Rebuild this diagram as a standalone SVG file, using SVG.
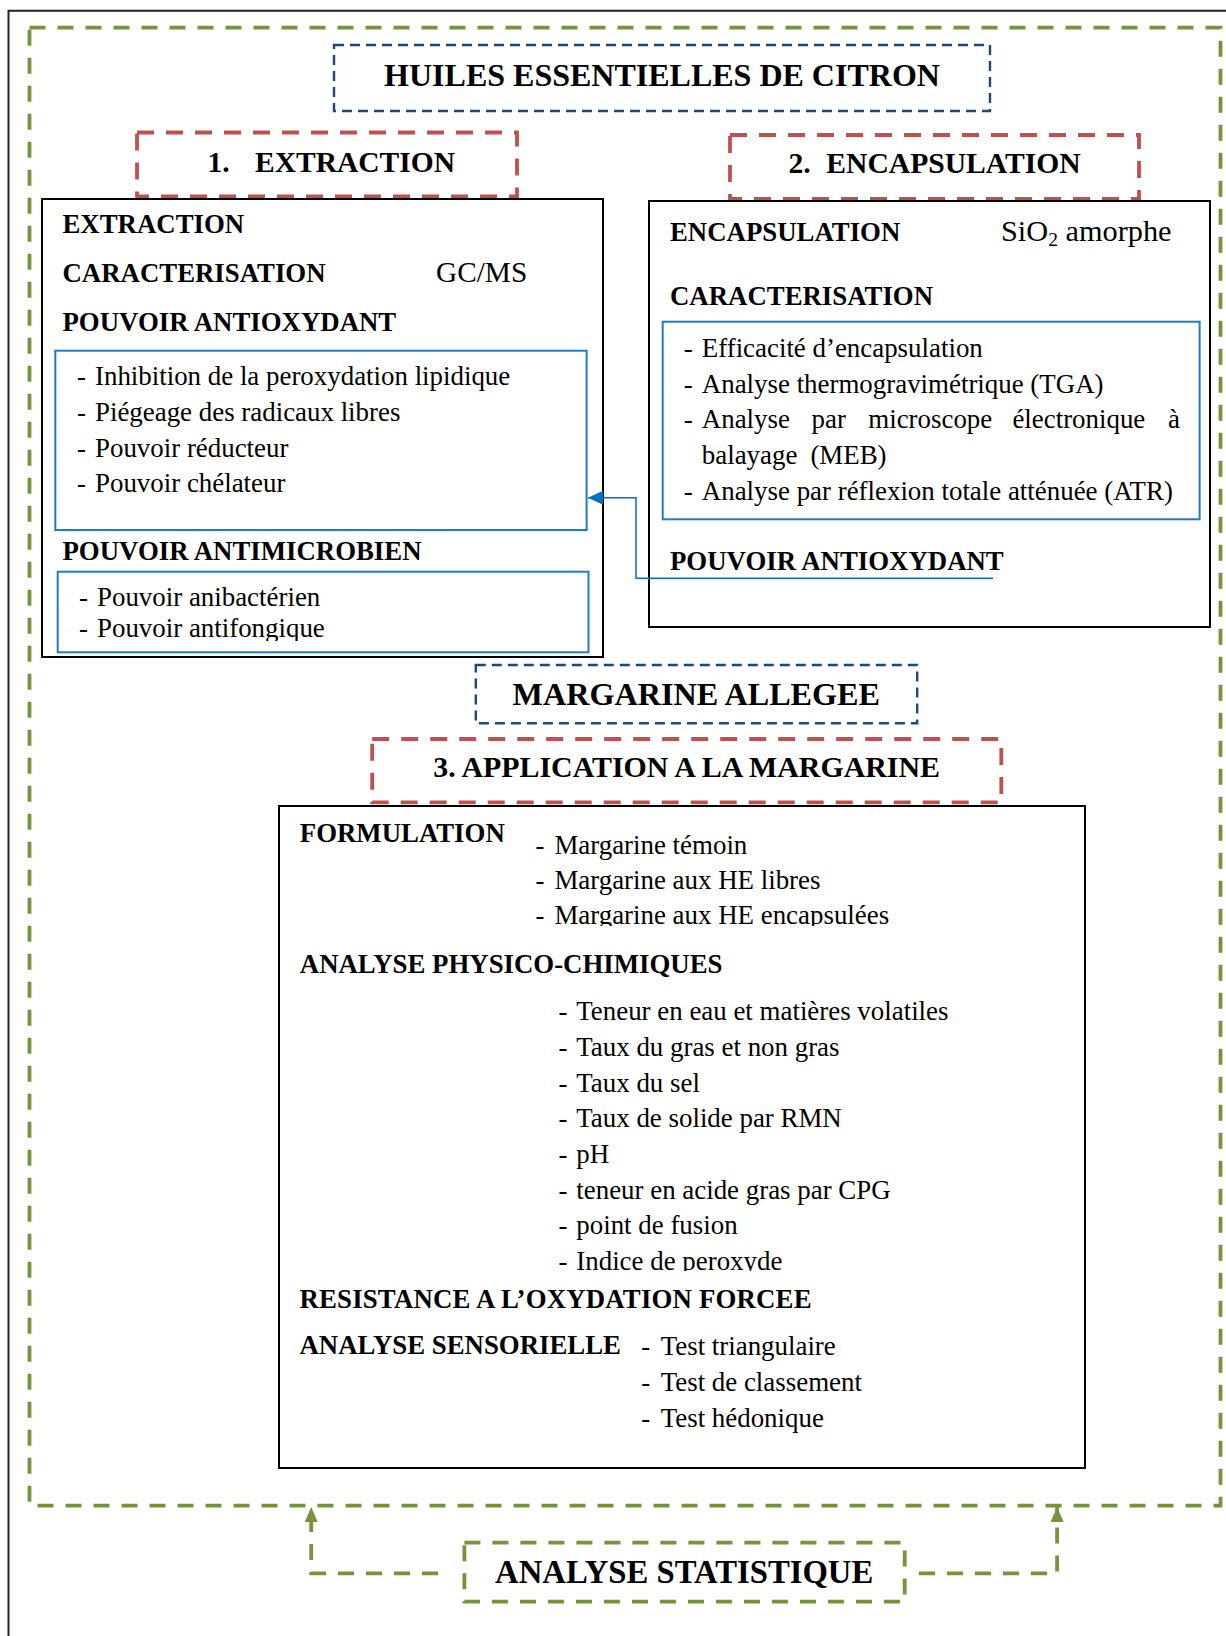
<svg xmlns="http://www.w3.org/2000/svg" width="1226" height="1636" viewBox="0 0 1226 1636">
<style>
  text { font-family: "Liberation Serif", "Times New Roman", serif; fill: #000; }
  .h { font-weight: bold; }
  .lab { font-weight: bold; font-size: 26.8px; }
  .it { font-size: 26.9px; }
  .red { fill: none; stroke: #C0504D; stroke-width: 3.8; stroke-dasharray: 17 12; }
  .grn { fill: none; stroke: #77933C; stroke-width: 3.8; stroke-dasharray: 16 12; }
  .bld { fill: none; stroke: #1F497D; stroke-width: 2.4; stroke-dasharray: 10 6; }
  .blk { fill: none; stroke: #000; stroke-width: 2; }
  .bls { fill: none; stroke: #1F7BC8; stroke-width: 2; }
</style>
<defs>
  <marker id="arrB" markerUnits="userSpaceOnUse" markerWidth="16" markerHeight="14" refX="15" refY="7" orient="auto">
    <path d="M0,0 L15,7 L0,14 z" fill="#0070C0"/>
  </marker>
  <marker id="arrG" markerUnits="userSpaceOnUse" markerWidth="16" markerHeight="14" refX="15" refY="6.5" orient="auto">
    <path d="M0,0 L15,6.5 L0,13 z" fill="#77933C"/>
  </marker>
  <clipPath id="c1"><rect x="50" y="560" width="540" height="81"/></clipPath>
  <clipPath id="c2"><rect x="500" y="820" width="500" height="106"/></clipPath>
  <clipPath id="c3"><rect x="500" y="1240" width="500" height="31"/></clipPath>
</defs>

<!-- outer frame -->
<path d="M8.5,1636 V10.7 H1226" fill="none" stroke="#222" stroke-width="2"/>
<rect id="cadre" x="29.5" y="27.7" width="1191" height="1478" class="grn"/>

<g id="titre">
  <rect x="334" y="45" width="656" height="66" class="bld"/>
  <text x="662" y="86" class="h" font-size="32" text-anchor="middle">HUILES ESSENTIELLES DE CITRON</text>
</g>

<g id="extraction-titre">
  <rect x="137" y="132.5" width="380" height="64" class="red"/>
  <text x="207.5" y="171.7" class="h" font-size="29.5">1.</text>
  <text x="255" y="171.7" class="h" font-size="29.5">EXTRACTION</text>
</g>

<g id="extraction">
  <rect x="42" y="199" width="561" height="458" class="blk"/>
  <text x="62.5" y="233.3" class="lab">EXTRACTION</text>
  <text x="62.5" y="281.7" class="lab">CARACTERISATION</text>
  <text x="436" y="281.7" font-size="29.3">GC/MS</text>
  <text x="62.5" y="330.5" class="lab">POUVOIR ANTIOXYDANT</text>
  <rect x="55.3" y="350.7" width="531.3" height="179.3" class="bls"/>
  <g class="it">
    <text x="77" y="385">-</text><text x="95" y="385">Inhibition de la peroxydation lipidique</text>
    <text x="77" y="420.7">-</text><text x="95" y="420.7">Piégeage des radicaux libres</text>
    <text x="77" y="456.5">-</text><text x="95" y="456.5">Pouvoir réducteur</text>
    <text x="77" y="492.3">-</text><text x="95" y="492.3">Pouvoir chélateur</text>
  </g>
  <text x="62.5" y="560" class="lab">POUVOIR ANTIMICROBIEN</text>
  <rect x="57.7" y="571.7" width="530.8" height="80.6" class="bls"/>
  <g class="it">
    <text x="79" y="606">-</text><text x="97" y="606">Pouvoir anibactérien</text>
    <g clip-path="url(#c1)"><text x="79" y="636.7">-</text><text x="97" y="636.7">Pouvoir antifongique</text></g>
  </g>
</g>

<g id="encapsulation-titre">
  <rect x="730" y="135" width="409" height="64" class="red"/>
  <text x="788.4" y="173.3" class="h" font-size="29.6">2.</text>
  <text x="826.3" y="173.3" class="h" font-size="29.6">ENCAPSULATION</text>
</g>

<g id="encapsulation">
  <rect x="649" y="201" width="561" height="426" class="blk"/>
  <text x="670" y="240.7" class="lab">ENCAPSULATION</text>
  <text x="1001" y="240.7" font-size="30.3">SiO<tspan font-size="19.5" dy="5">2</tspan><tspan dy="-5"> amorphe</tspan></text>
  <text x="670" y="305" class="lab">CARACTERISATION</text>
  <rect x="662.7" y="321.7" width="536.9" height="197.6" class="bls"/>
  <g class="it">
    <text x="683.8" y="356.7">-</text><text x="701.8" y="356.7">Efficacité d’encapsulation</text>
    <text x="683.8" y="392.5">-</text><text x="701.8" y="392.5">Analyse thermogravimétrique (TGA)</text>
    <text x="683.8" y="428.3">-</text><text x="701.8" y="428.3">Analyse</text><text x="811.6" y="428.3">par</text><text x="868.3" y="428.3">microscope</text><text x="1012.4" y="428.3">électronique</text><text x="1168" y="428.3">à</text>
    <text x="701.8" y="464">balayage</text><text x="810.4" y="464">(MEB)</text>
    <text x="683.8" y="500">-</text><text x="701.8" y="500">Analyse par réflexion totale atténuée (ATR)</text>
  </g>
  <text x="670" y="570" class="lab">POUVOIR ANTIOXYDANT</text>
</g>

<g id="margarine-allegee">
  <rect x="475.8" y="665" width="441.4" height="58.3" class="bld"/>
  <text x="696.3" y="705" class="h" font-size="32.2" text-anchor="middle">MARGARINE ALLEGEE</text>
</g>

<g id="application-titre">
  <rect x="372.2" y="739" width="629.1" height="63.3" class="red"/>
  <text x="686.6" y="776.7" class="h" font-size="29.9" text-anchor="middle">3. APPLICATION A LA MARGARINE</text>
</g>

<g id="application">
  <rect x="279" y="806" width="806" height="662" class="blk"/>
  <text x="299.8" y="841.7" class="lab">FORMULATION</text>
  <g class="it">
    <text x="535.5" y="853.5">-</text><text x="554.4" y="853.5">Margarine témoin</text>
    <text x="535.5" y="888.8">-</text><text x="554.4" y="888.8">Margarine aux HE libres</text>
    <g clip-path="url(#c2)"><text x="535.5" y="924">-</text><text x="554.4" y="924">Margarine aux HE encapsulées</text></g>
  </g>
  <text x="299.8" y="973.3" class="lab">ANALYSE PHYSICO-CHIMIQUES</text>
  <g class="it">
    <text x="558.5" y="1020">-</text><text x="576.3" y="1020">Teneur en eau et matières volatiles</text>
    <text x="558.5" y="1056">-</text><text x="576.3" y="1056">Taux du gras et non gras</text>
    <text x="558.5" y="1091.7">-</text><text x="576.3" y="1091.7">Taux du sel</text>
    <text x="558.5" y="1127.3">-</text><text x="576.3" y="1127.3">Taux de solide par RMN</text>
    <text x="558.5" y="1163.2">-</text><text x="576.3" y="1163.2">pH</text>
    <text x="558.5" y="1198.5">-</text><text x="576.3" y="1198.5">teneur en acide gras par CPG</text>
    <text x="558.5" y="1234">-</text><text x="576.3" y="1234">point de fusion</text>
    <g clip-path="url(#c3)"><text x="558.5" y="1269.5">-</text><text x="576.3" y="1269.5">Indice de peroxyde</text></g>
  </g>
  <text x="299.5" y="1307.7" class="lab" textLength="512" lengthAdjust="spacing">RESISTANCE A L’OXYDATION FORCEE</text>
  <text x="299.5" y="1354" class="lab">ANALYSE SENSORIELLE</text>
  <g class="it">
    <text x="641.2" y="1355">-</text><text x="660.7" y="1355">Test triangulaire</text>
    <text x="641.2" y="1391">-</text><text x="660.7" y="1391">Test de classement</text>
    <text x="641.2" y="1426.7">-</text><text x="660.7" y="1426.7">Test hédonique</text>
  </g>
</g>

<g id="analyse-statistique">
  <rect x="464.4" y="1542.7" width="440.3" height="59" class="grn"/>
  <text x="684.2" y="1583.3" class="h" font-size="32.7" text-anchor="middle">ANALYSE STATISTIQUE</text>
</g>

<g id="connecteurs">
  <path d="M993,578.3 H636 V497.7 H588" fill="none" stroke="#0070C0" stroke-width="1.5" marker-end="url(#arrB)"/>
  <path d="M438,1573.3 H311.2 V1507" class="grn" stroke-width="3.5" marker-end="url(#arrG)"/>
  <path d="M919,1573.3 H1057.1 V1507" class="grn" stroke-width="3.5" marker-end="url(#arrG)"/>
</g>
</svg>
